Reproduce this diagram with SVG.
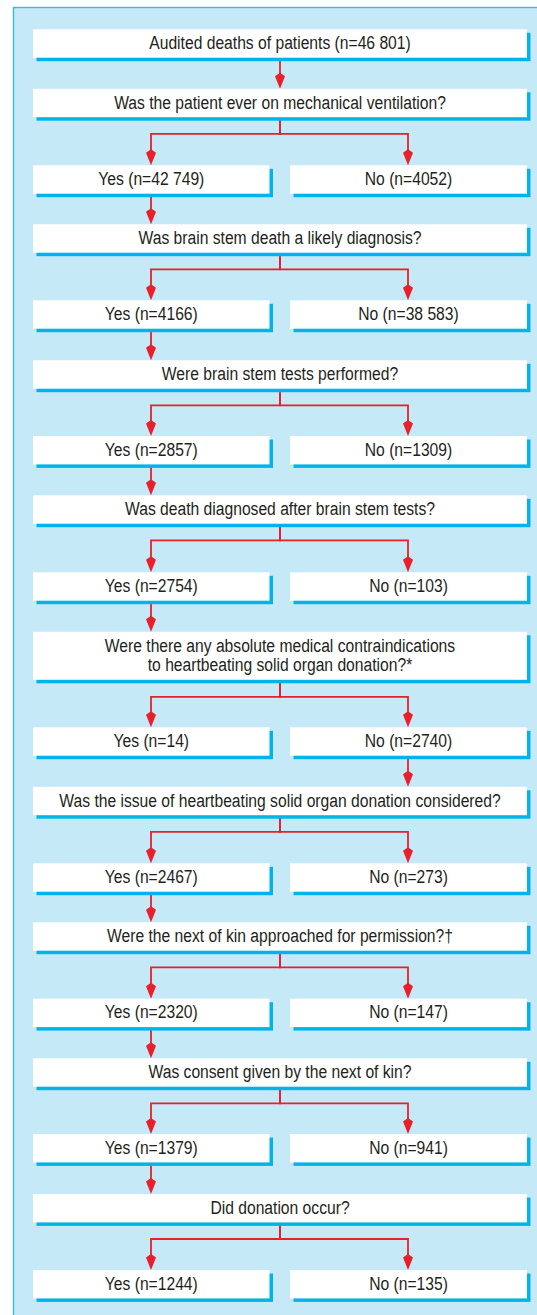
<svg xmlns="http://www.w3.org/2000/svg" width="537" height="1315" viewBox="0 0 537 1315">
<style>
.sh{fill:#00b4ea}
.bx{fill:#ffffff}
.t{font-family:"Liberation Sans",Arial,sans-serif;font-size:18px;fill:#231f20;text-anchor:middle}
.c{fill:none;stroke:#e8202a;stroke-width:1.8;marker-end:url(#ah)}
</style>
<defs>
<marker id="ah" markerUnits="userSpaceOnUse" markerWidth="16" markerHeight="10" refX="13" refY="5" orient="auto" overflow="visible">
<path d="M0,5 L3.5,0 L16,5 L3.5,10 Z" fill="#e8202a"/>
</marker>
</defs>
<rect x="13.5" y="7.5" width="540" height="1320" fill="#c6e9f8" stroke="#33bdee" stroke-width="1.4"/>
<g id="connectors">
<path class="c" d="M280,57.7 V85.8"/>
<path class="c" d="M280,117.2 V133.8 H151 V162.3"/>
<path class="c" d="M280,117.2 V133.8 H408 V162.3"/>
<path class="c" d="M151,193.7 V221.3"/>
<path class="c" d="M280,252.7 V269.3 H151 V297.3"/>
<path class="c" d="M280,252.7 V269.3 H408 V297.3"/>
<path class="c" d="M151,328.7 V357.3"/>
<path class="c" d="M280,388.7 V405.3 H151 V433"/>
<path class="c" d="M280,388.7 V405.3 H408 V433"/>
<path class="c" d="M151,464.4 V492.3"/>
<path class="c" d="M280,523.7 V540.3 H151 V569.3"/>
<path class="c" d="M280,523.7 V540.3 H408 V569.3"/>
<path class="c" d="M151,600.7 V628.8"/>
<path class="c" d="M280,679.8 V696.8 H151 V724.3"/>
<path class="c" d="M280,679.8 V696.8 H408 V724.3"/>
<path class="c" d="M408,755.7 V783.8"/>
<path class="c" d="M280,815.2 V831.8 H151 V860.3"/>
<path class="c" d="M280,815.2 V831.8 H408 V860.3"/>
<path class="c" d="M151,891.7 V919.3"/>
<path class="c" d="M280,950.7 V967.3 H151 V995.7"/>
<path class="c" d="M280,950.7 V967.3 H408 V995.7"/>
<path class="c" d="M151,1027.1 V1055.3"/>
<path class="c" d="M280,1086.7 V1103.3 H151 V1131"/>
<path class="c" d="M280,1086.7 V1103.3 H408 V1131"/>
<path class="c" d="M151,1162.4 V1191"/>
<path class="c" d="M280,1222.4 V1239 H151 V1267"/>
<path class="c" d="M280,1222.4 V1239 H408 V1267"/>
</g>
<g id="q1"><rect class="sh" x="36.5" y="32.8" width="494" height="28.4"/><rect class="bx" x="33" y="29.3" width="494" height="28.4"/><text class="t" transform="translate(280 49) scale(0.87 1)">Audited deaths of patients (n=46 801)</text></g>
<g id="q2"><rect class="sh" x="36.5" y="92.3" width="494" height="28.4"/><rect class="bx" x="33" y="88.8" width="494" height="28.4"/><text class="t" transform="translate(280 108.5) scale(0.87 1)">Was the patient ever on mechanical ventilation?</text></g>
<g id="a2y"><rect class="sh" x="36.5" y="168.8" width="236.5" height="28.4"/><rect class="bx" x="33" y="165.3" width="236.5" height="28.4"/><text class="t" transform="translate(151.3 185) scale(0.87 1)">Yes (n=42 749)</text></g>
<g id="a2n"><rect class="sh" x="293.5" y="168.8" width="237" height="28.4"/><rect class="bx" x="290" y="165.3" width="237" height="28.4"/><text class="t" transform="translate(408.5 185) scale(0.87 1)">No (n=4052)</text></g>
<g id="q3"><rect class="sh" x="36.5" y="227.8" width="494" height="28.4"/><rect class="bx" x="33" y="224.3" width="494" height="28.4"/><text class="t" transform="translate(280 244) scale(0.87 1)">Was brain stem death a likely diagnosis?</text></g>
<g id="a3y"><rect class="sh" x="36.5" y="303.8" width="236.5" height="28.4"/><rect class="bx" x="33" y="300.3" width="236.5" height="28.4"/><text class="t" transform="translate(151.3 320) scale(0.87 1)">Yes (n=4166)</text></g>
<g id="a3n"><rect class="sh" x="293.5" y="303.8" width="237" height="28.4"/><rect class="bx" x="290" y="300.3" width="237" height="28.4"/><text class="t" transform="translate(408.5 320) scale(0.87 1)">No (n=38 583)</text></g>
<g id="q4"><rect class="sh" x="36.5" y="363.8" width="494" height="28.4"/><rect class="bx" x="33" y="360.3" width="494" height="28.4"/><text class="t" transform="translate(280 380) scale(0.87 1)">Were brain stem tests performed?</text></g>
<g id="a4y"><rect class="sh" x="36.5" y="439.5" width="236.5" height="28.4"/><rect class="bx" x="33" y="436" width="236.5" height="28.4"/><text class="t" transform="translate(151.3 455.7) scale(0.87 1)">Yes (n=2857)</text></g>
<g id="a4n"><rect class="sh" x="293.5" y="439.5" width="237" height="28.4"/><rect class="bx" x="290" y="436" width="237" height="28.4"/><text class="t" transform="translate(408.5 455.7) scale(0.87 1)">No (n=1309)</text></g>
<g id="q5"><rect class="sh" x="36.5" y="498.8" width="494" height="28.4"/><rect class="bx" x="33" y="495.3" width="494" height="28.4"/><text class="t" transform="translate(280 515) scale(0.87 1)">Was death diagnosed after brain stem tests?</text></g>
<g id="a5y"><rect class="sh" x="36.5" y="575.8" width="236.5" height="28.4"/><rect class="bx" x="33" y="572.3" width="236.5" height="28.4"/><text class="t" transform="translate(151.3 592) scale(0.87 1)">Yes (n=2754)</text></g>
<g id="a5n"><rect class="sh" x="293.5" y="575.8" width="237" height="28.4"/><rect class="bx" x="290" y="572.3" width="237" height="28.4"/><text class="t" transform="translate(408.5 592) scale(0.87 1)">No (n=103)</text></g>
<g id="q6"><rect class="sh" x="36.5" y="635.3" width="494" height="48"/><rect class="bx" x="33" y="631.8" width="494" height="48"/><text class="t" transform="translate(280 651.5) scale(0.87 1)">Were there any absolute medical contraindications</text><text class="t" transform="translate(280 671) scale(0.87 1)">to heartbeating solid organ donation?*</text></g>
<g id="a6y"><rect class="sh" x="36.5" y="730.8" width="236.5" height="28.4"/><rect class="bx" x="33" y="727.3" width="236.5" height="28.4"/><text class="t" transform="translate(151.3 747) scale(0.87 1)">Yes (n=14)</text></g>
<g id="a6n"><rect class="sh" x="293.5" y="730.8" width="237" height="28.4"/><rect class="bx" x="290" y="727.3" width="237" height="28.4"/><text class="t" transform="translate(408.5 747) scale(0.87 1)">No (n=2740)</text></g>
<g id="q7"><rect class="sh" x="36.5" y="790.3" width="494" height="28.4"/><rect class="bx" x="33" y="786.8" width="494" height="28.4"/><text class="t" transform="translate(280 806.5) scale(0.87 1)">Was the issue of heartbeating solid organ donation considered?</text></g>
<g id="a7y"><rect class="sh" x="36.5" y="866.8" width="236.5" height="28.4"/><rect class="bx" x="33" y="863.3" width="236.5" height="28.4"/><text class="t" transform="translate(151.3 883) scale(0.87 1)">Yes (n=2467)</text></g>
<g id="a7n"><rect class="sh" x="293.5" y="866.8" width="237" height="28.4"/><rect class="bx" x="290" y="863.3" width="237" height="28.4"/><text class="t" transform="translate(408.5 883) scale(0.87 1)">No (n=273)</text></g>
<g id="q8"><rect class="sh" x="36.5" y="925.8" width="494" height="28.4"/><rect class="bx" x="33" y="922.3" width="494" height="28.4"/><text class="t" transform="translate(280 942) scale(0.87 1)">Were the next of kin approached for permission?†</text></g>
<g id="a8y"><rect class="sh" x="36.5" y="1002.2" width="236.5" height="28.4"/><rect class="bx" x="33" y="998.7" width="236.5" height="28.4"/><text class="t" transform="translate(151.3 1018.4) scale(0.87 1)">Yes (n=2320)</text></g>
<g id="a8n"><rect class="sh" x="293.5" y="1002.2" width="237" height="28.4"/><rect class="bx" x="290" y="998.7" width="237" height="28.4"/><text class="t" transform="translate(408.5 1018.4) scale(0.87 1)">No (n=147)</text></g>
<g id="q9"><rect class="sh" x="36.5" y="1061.8" width="494" height="28.4"/><rect class="bx" x="33" y="1058.3" width="494" height="28.4"/><text class="t" transform="translate(280 1078) scale(0.87 1)">Was consent given by the next of kin?</text></g>
<g id="a9y"><rect class="sh" x="36.5" y="1137.5" width="236.5" height="28.4"/><rect class="bx" x="33" y="1134" width="236.5" height="28.4"/><text class="t" transform="translate(151.3 1153.7) scale(0.87 1)">Yes (n=1379)</text></g>
<g id="a9n"><rect class="sh" x="293.5" y="1137.5" width="237" height="28.4"/><rect class="bx" x="290" y="1134" width="237" height="28.4"/><text class="t" transform="translate(408.5 1153.7) scale(0.87 1)">No (n=941)</text></g>
<g id="q10"><rect class="sh" x="36.5" y="1197.5" width="494" height="28.4"/><rect class="bx" x="33" y="1194" width="494" height="28.4"/><text class="t" transform="translate(280 1213.7) scale(0.87 1)">Did donation occur?</text></g>
<g id="a10y"><rect class="sh" x="36.5" y="1273.5" width="236.5" height="28.4"/><rect class="bx" x="33" y="1270" width="236.5" height="28.4"/><text class="t" transform="translate(151.3 1289.7) scale(0.87 1)">Yes (n=1244)</text></g>
<g id="a10n"><rect class="sh" x="293.5" y="1273.5" width="237" height="28.4"/><rect class="bx" x="290" y="1270" width="237" height="28.4"/><text class="t" transform="translate(408.5 1289.7) scale(0.87 1)">No (n=135)</text></g>
</svg>
